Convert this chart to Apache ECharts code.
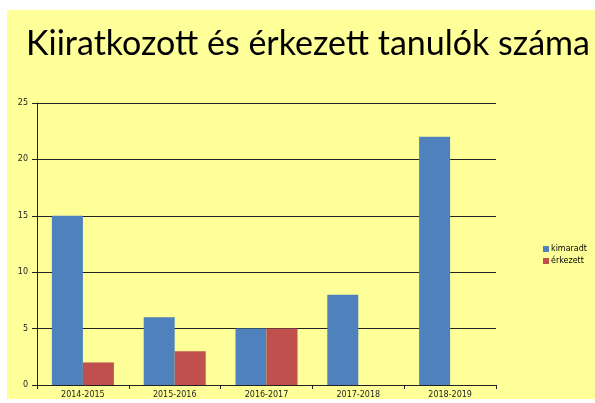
<!DOCTYPE html>
<html><head><meta charset="utf-8">
<script src="https://cdn.jsdelivr.net/npm/echarts@6/dist/echarts.min.js"></script>
<style>html,body{margin:0;padding:0;background:#fff}#c{width:595px;height:403px}</style>
</head><body><div id="c"></div>
<script>
const categories = ['2014-2015','2015-2016','2016-2017','2017-2018','2018-2019'];
const kimaradt = [15, 6, 5, 8, 22];
const erkezett = [2, 3, 5, 0, 0];
const seriesNames = ['kimaradt', 'érkezett'];
const titleText = 'Kiiratkozott és érkezett tanulók száma';

const chart = echarts.init(document.getElementById('c'));
chart.setOption({
  backgroundColor: '#ffffff',
  animation: false,
  graphic: [{type:'rect', z:-10, shape:{x:7,y:10,width:588,height:389}, style:{fill:'#FFFF99'}}],
  title: {text: titleText, left: 21, top: 22, textStyle:{fontFamily:'Lato', fontSize:34, fontWeight:'normal', color:'#000'}},
  legend: {orient:'vertical', left: 538, top: 240, itemWidth:6, itemHeight:6, itemGap:4,
    data: seriesNames, icon:'rect',
    textStyle:{fontFamily:'DejaVu Sans', fontSize:8, color:'#000', padding:[0,0,0,-3]}},
  grid: {left:37, right:99, top:103, bottom:18, containLabel:false},
  xAxis: {type:'category', data: categories,
    axisLine:{lineStyle:{color:'#222', width:1}},
    axisTick:{show:true, length:4, lineStyle:{color:'#222'}},
    axisLabel:{fontFamily:'DejaVu Sans', fontSize:8, color:'#222', margin:6}},
  yAxis: {type:'value', min:0, max:25, interval:5,
    axisLine:{show:true, lineStyle:{color:'#222'}},
    axisTick:{show:true, length:5, inside:false, lineStyle:{color:'#222'}},
    splitLine:{lineStyle:{color:'#222', width:1}},
    axisLabel:{fontFamily:'DejaVu Sans', fontSize:8, color:'#222', margin:9}},
  series: [
    {name: seriesNames[0], type:'bar', data: kimaradt, barWidth:31, barGap:'0%', itemStyle:{color:'#4F81BD'}},
    {name: seriesNames[1], type:'bar', data: erkezett, barWidth:31, barGap:'0%', itemStyle:{color:'#C0504D'}}
  ]
});
</script></body></html>
